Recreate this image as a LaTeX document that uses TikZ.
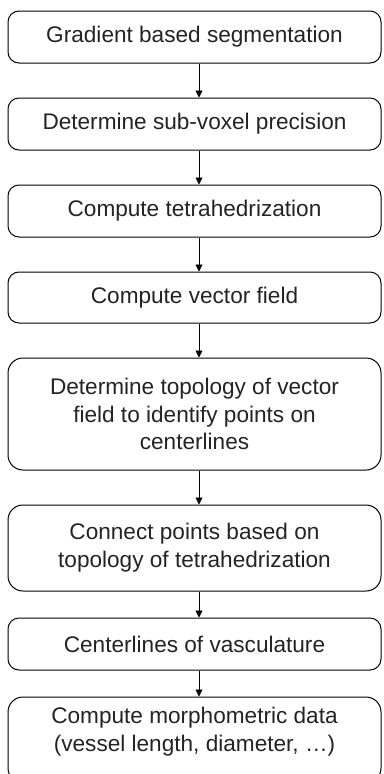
\documentclass[tikz,border=0pt]{standalone}
\usepackage{fontspec}
\setmainfont{Liberation Sans}
\definecolor{txtgray}{RGB}{35,35,35}
\usetikzlibrary{arrows.meta, positioning}

\begin{document}
\begin{tikzpicture}[
    x=1pt, y=1pt,
    node distance=34pt,
    box/.style={draw, line width=1pt, rounded corners=11pt, minimum height=52pt, minimum width=373pt, align=center, text=txtgray, font=\fontsize{22.6}{27.8}\selectfont},
    arr/.style={-{Triangle[length=7pt, width=7pt]}, line width=0.9pt}
]
    \useasboundingbox (0,0) rectangle (383,-774);

    \node[box] (seg) at (194.5,-37) {Gradient based segmentation};
    \node[box, below=of seg] (subvox) {Determine sub-voxel precision};
    \node[box, below=of subvox] (tetra) {Compute tetrahedrization};
    \node[box, below=of tetra, minimum height=51pt] (vfield) {Compute vector field};
    \node[box, below=of vfield, minimum height=112pt, rounded corners=15pt] (topo) {Determine topology of vector\\field to identify points on\\centerlines};
    \node[box, below=of topo, minimum height=86pt, rounded corners=15pt] (connect) {Connect points based on\\topology of tetrahedrization};
    \node[box, below=26pt of connect] (center) {Centerlines of vasculature};
    \node[box, below=26pt of center, minimum height=86pt, rounded corners=15pt] (morph) {Compute morphometric data\\(vessel length, diameter, …)\rule[-22pt]{0pt}{0pt}};

    \draw[arr] ([xshift=4.5pt]seg.south) -- ([xshift=4.5pt]subvox.north);
    \draw[arr] ([xshift=4.5pt]subvox.south) -- ([xshift=4.5pt]tetra.north);
    \draw[arr] ([xshift=4.5pt]tetra.south) -- ([xshift=4.5pt]vfield.north);
    \draw[arr] ([xshift=4.5pt]vfield.south) -- ([xshift=4.5pt]topo.north);
    \draw[arr] ([xshift=4.5pt]topo.south) -- ([xshift=4.5pt]connect.north);
    \draw[arr] ([xshift=4.5pt]connect.south) -- ([xshift=4.5pt]center.north);
    \draw[arr] ([xshift=4.5pt]center.south) -- ([xshift=4.5pt]morph.north);
\end{tikzpicture}
\end{document}
